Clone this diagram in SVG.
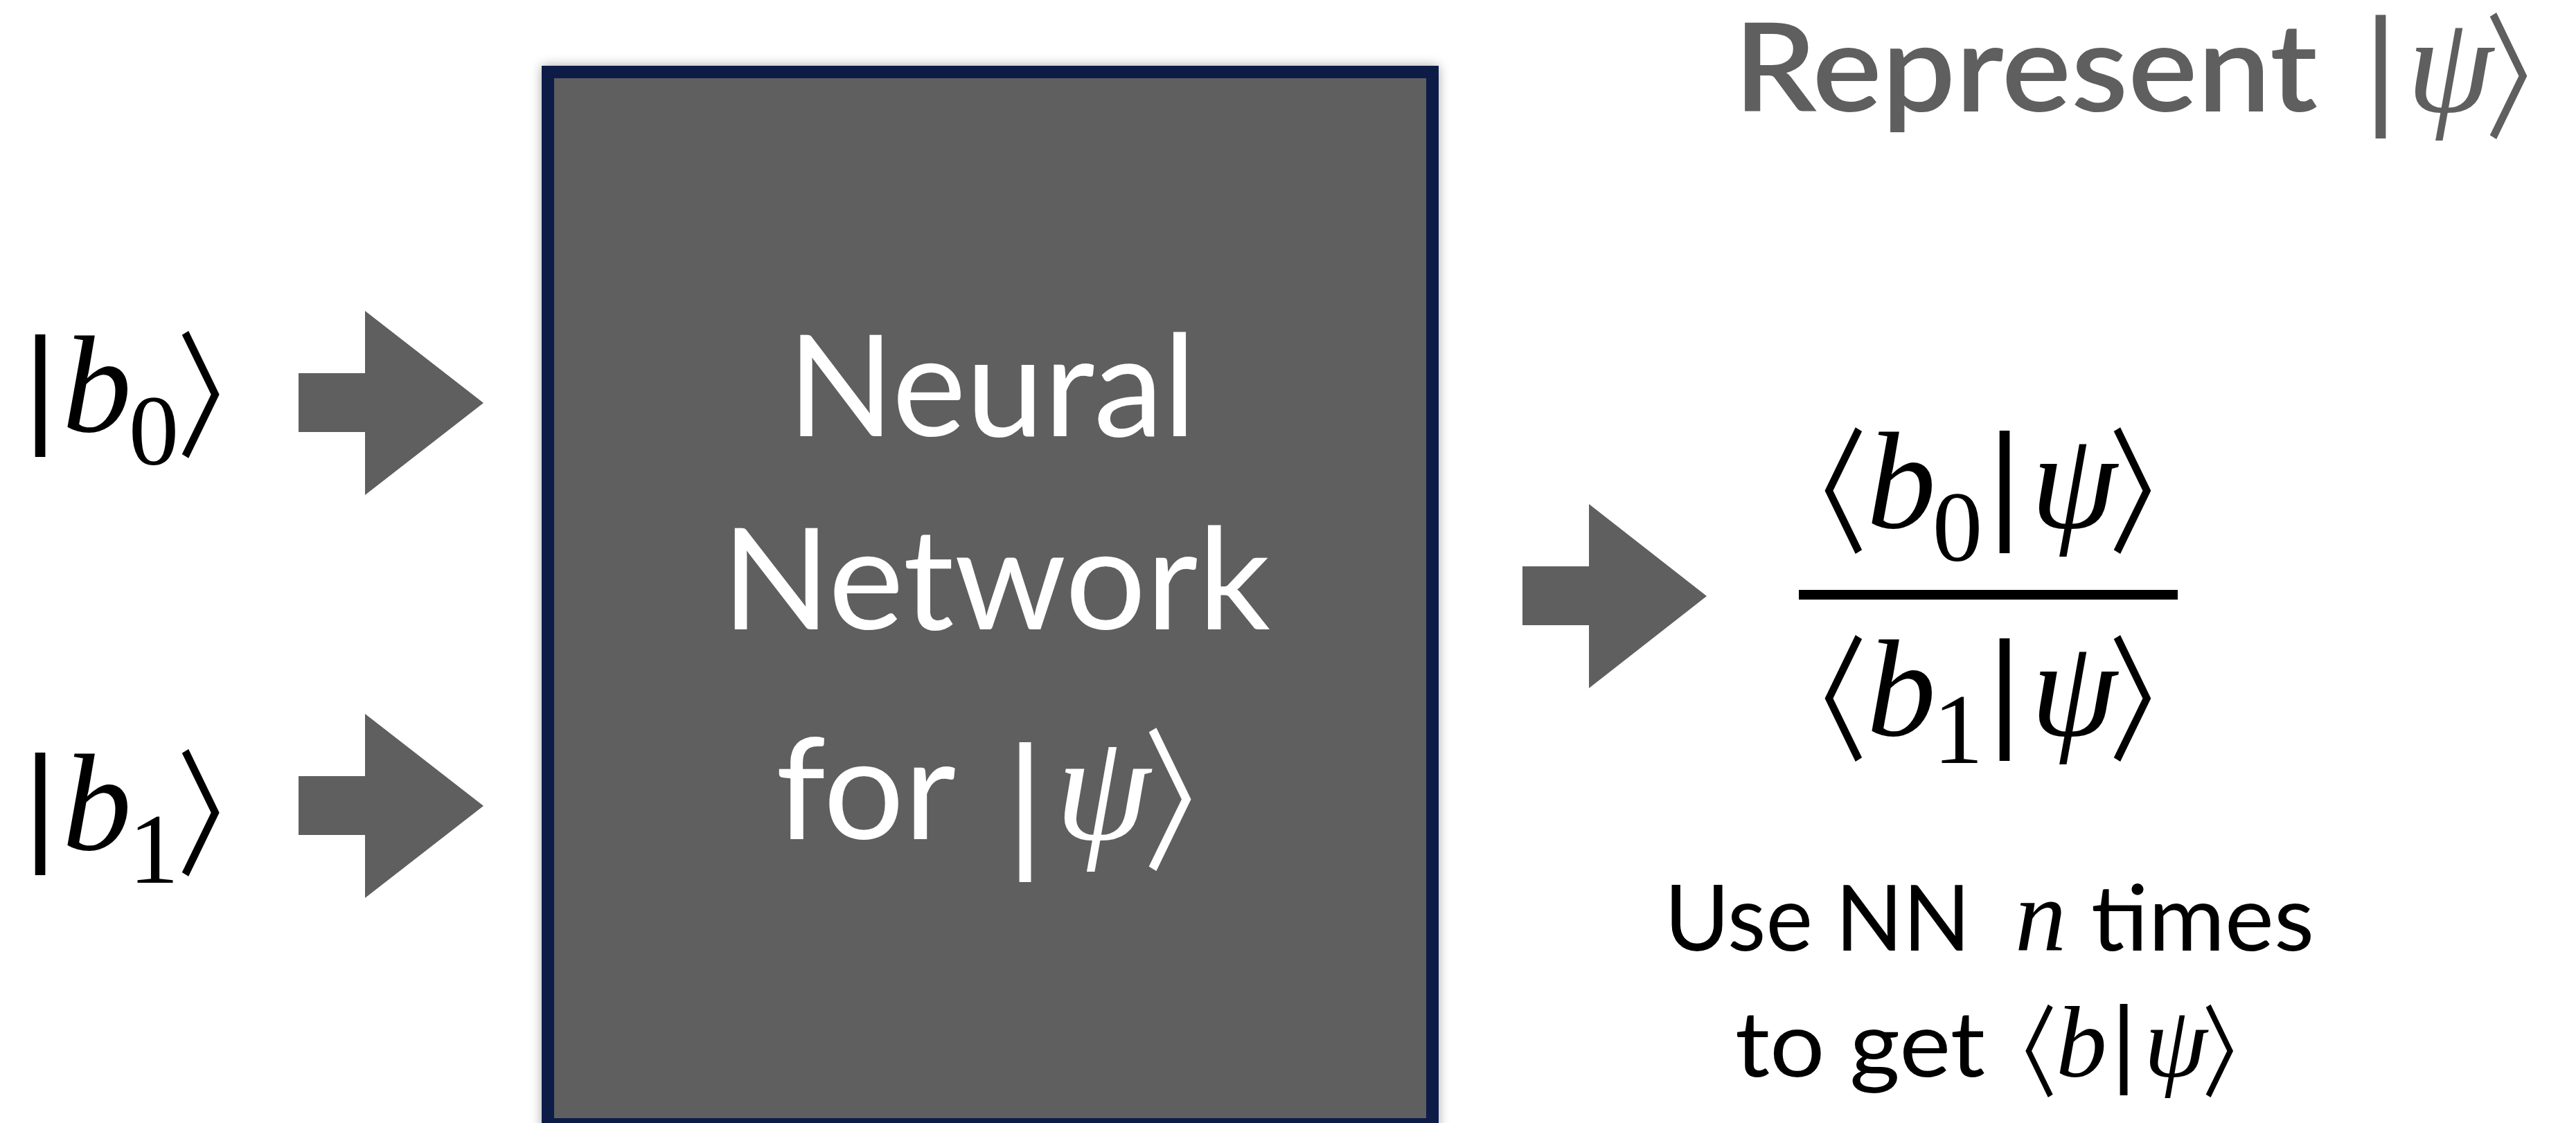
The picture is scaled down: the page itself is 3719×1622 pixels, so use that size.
<svg xmlns="http://www.w3.org/2000/svg" width="3719" height="1622" viewBox="0 0 3719 1622">
<defs>
<style>
.sans{font-family:Lato,"Noto Sans","Liberation Sans",sans-serif}
.ser{font-family:"Liberation Serif","DejaVu Serif",serif}
.it{font-style:italic}
.br{font-family:"DejaVu Sans",sans-serif}
.cj{font-family:"Noto Sans CJK SC",sans-serif}
.m{text-anchor:middle}
.arrow{fill:#5f5f5f}
</style>
<filter id="sh" x="-5%" y="-5%" width="110%" height="110%">
<feDropShadow dx="0" dy="0" stdDeviation="8" flood-color="#000" flood-opacity="0.35"/>
</filter>
</defs>
<rect width="3719" height="1622" fill="#fff"/>

<g id="nn-box">
<rect x="791" y="104" width="1277" height="1520" fill="#5f5f5f" stroke="#081a47" stroke-width="18" filter="url(#sh)"/>
<g fill="#fff">
<text class="sans m" x="1432" y="630" font-size="203" textLength="590" lengthAdjust="spacingAndGlyphs">Neural</text>
<text class="sans m" x="1438" y="909" font-size="203" textLength="792" lengthAdjust="spacingAndGlyphs">Network</text>
<text class="sans" x="1120" y="1212" font-size="203" textLength="260" lengthAdjust="spacingAndGlyphs">for</text>
<text class="br m" x="1480" y="1226" font-size="202">|</text>
<text class="ser it m" x="1592" y="1212" font-size="220">ψ</text>
<text class="cj" transform="translate(1650,1239) scale(0.76,1)" font-size="222">〉</text>
</g>
</g>

<g id="title" fill="#5f5f5f">
<text class="sans" x="2503" y="161" font-size="178" font-weight="600" textLength="843" lengthAdjust="spacingAndGlyphs">Represent</text>
<text class="br m" x="3437" y="158" font-size="178">|</text>
<text class="ser it m" x="3537" y="161" font-size="200">ψ</text>
<text class="cj" transform="translate(3587,184) scale(0.76,1)" font-size="196">〉</text>
</g>

<g id="ket-b0">
<text class="br m" x="58" y="618" font-size="177">|</text>
<text class="ser it m" x="140" y="623" font-size="200">b</text>
<text class="ser m" x="222" y="671" font-size="145">0</text>
<text class="cj" transform="translate(255,644) scale(0.76,1)" font-size="197">〉</text>
</g>

<g id="ket-b1">
<text class="br m" x="58" y="1222" font-size="177">|</text>
<text class="ser it m" x="140" y="1227" font-size="200">b</text>
<text class="ser m" x="222" y="1275" font-size="145">1</text>
<text class="cj" transform="translate(255,1248) scale(0.76,1)" font-size="197">〉</text>
</g>

<g id="ratio">
<rect x="2597" y="852" width="547" height="14" fill="#000"/>
<text class="cj" transform="translate(2547,783) scale(0.76,1)" font-size="196">〈</text>
<text class="ser it m" x="2745" y="762" font-size="200">b</text>
<text class="ser m" x="2826" y="810" font-size="145">0</text>
<text class="br m" x="2894" y="757" font-size="177">|</text>
<text class="ser it m" x="2994" y="762" font-size="200">ψ</text>
<text class="cj" transform="translate(3044,783) scale(0.76,1)" font-size="196">〉</text>
<text class="cj" transform="translate(2547,1083) scale(0.76,1)" font-size="196">〈</text>
<text class="ser it m" x="2745" y="1062" font-size="200">b</text>
<text class="ser m" x="2827" y="1102" font-size="145">1</text>
<text class="br m" x="2894" y="1057" font-size="177">|</text>
<text class="ser it m" x="2994" y="1062" font-size="200">ψ</text>
<text class="cj" transform="translate(3044,1083) scale(0.76,1)" font-size="196">〉</text>
</g>

<g id="note">
<text class="sans" x="2403" y="1373" font-size="131" textLength="442" lengthAdjust="spacingAndGlyphs">Use NN</text>
<text class="ser it m" x="2946" y="1373" font-size="148">n</text>
<text class="sans" x="3019" y="1373" font-size="131" textLength="322" lengthAdjust="spacingAndGlyphs">times</text>
<text class="sans" x="2505" y="1555" font-size="131" textLength="361" lengthAdjust="spacingAndGlyphs">to get</text>
<text class="cj" transform="translate(2860,1573) scale(0.76,1)" font-size="144">〈</text>
<text class="ser it m" x="3005" y="1555" font-size="147">b</text>
<text class="br m" x="3066" y="1551" font-size="131">|</text>
<text class="ser it m" x="3141" y="1555" font-size="147">ψ</text>
<text class="cj" transform="translate(3179,1573) scale(0.76,1)" font-size="144">〉</text>
</g>

<g id="connectors">
<polygon class="arrow" points="431,539 527,539 527,449 698,582 527,715 527,624 431,624"/>
<polygon class="arrow" points="431,1121 527,1121 527,1031 698,1164 527,1297 527,1206 431,1206"/>
<polygon class="arrow" points="2198,818 2294,818 2294,728 2464,861 2294,994 2294,903 2198,903"/>
</g>
</svg>
